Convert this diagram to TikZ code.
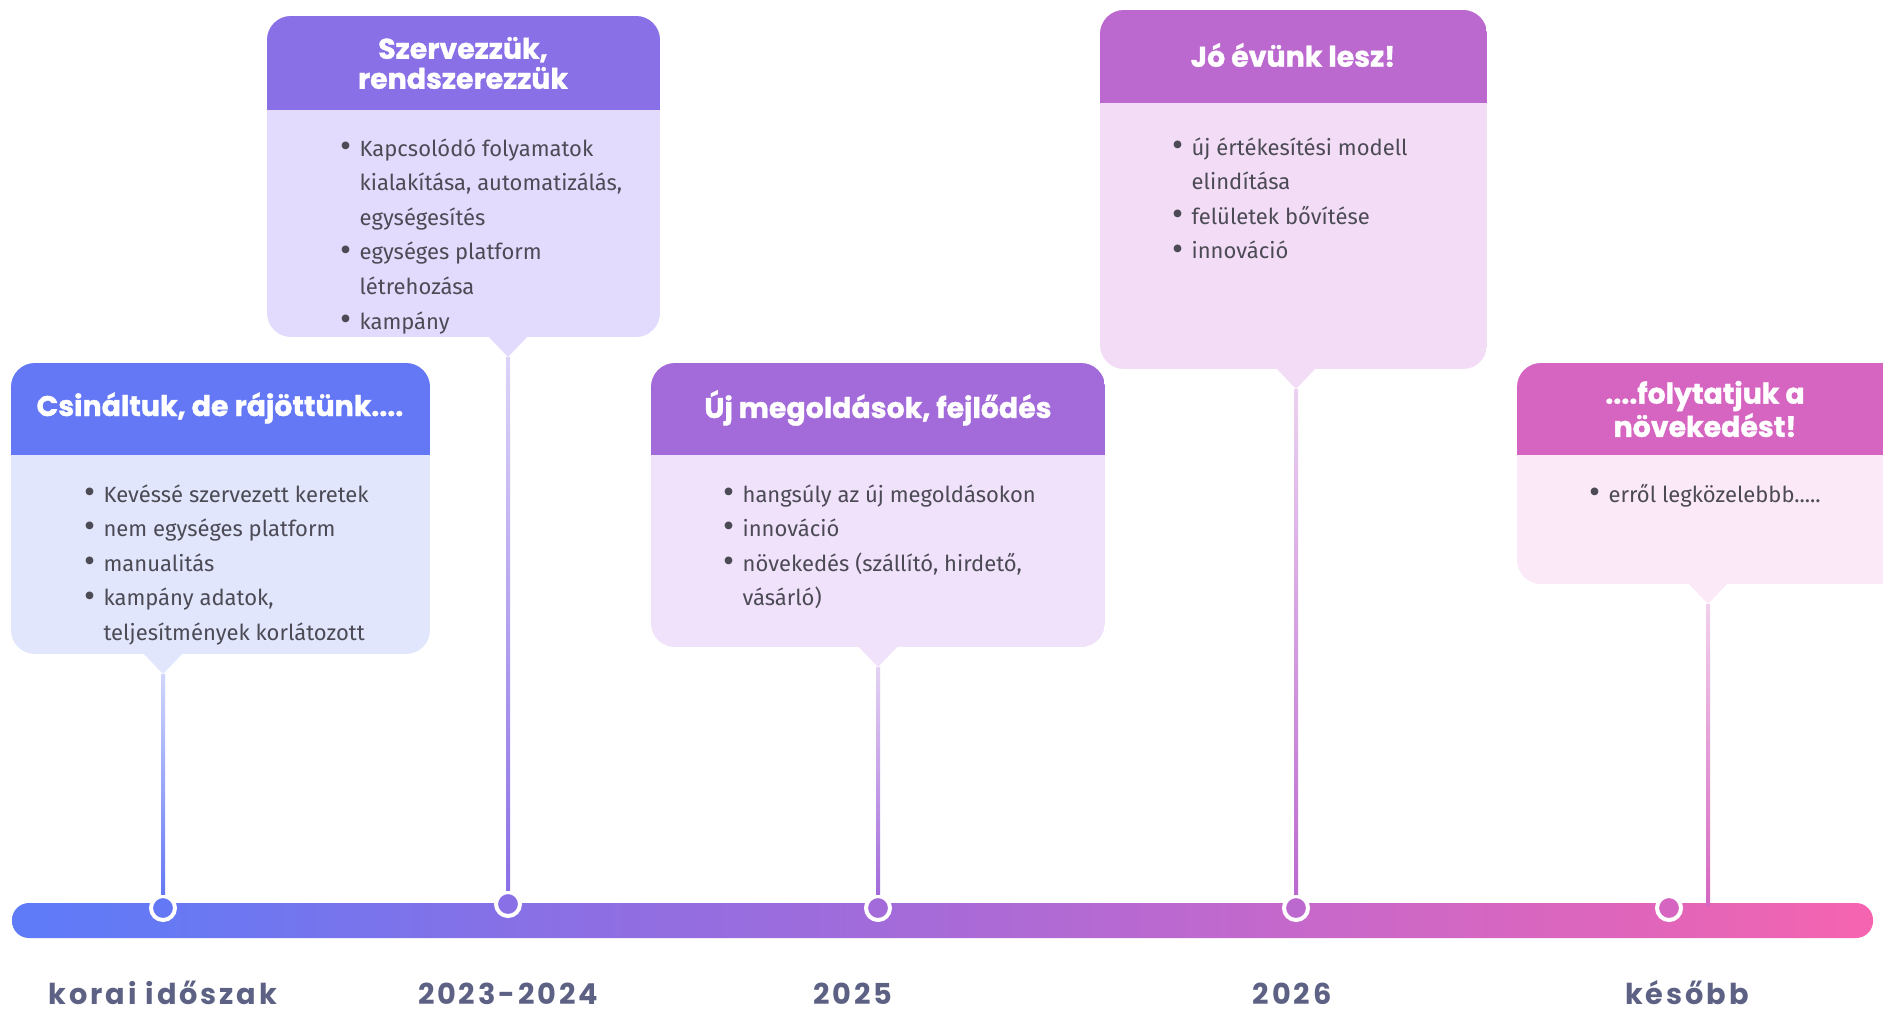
\documentclass[tikz,border=0pt]{standalone}
\usepackage{fontspec}
\setmainfont{Fira Sans}
\newfontfamily\headfont{Poppins}[BoldFeatures={FakeBold=1.2}]
\newfontfamily\yearfont{Poppins}[LetterSpace=10]
\usetikzlibrary{positioning, calc}
\definecolor{headblue}{HTML}{6478F5}
\definecolor{bodyblue}{HTML}{E2E6FC}
\definecolor{headviolet}{HTML}{8A70E6}
\definecolor{bodyviolet}{HTML}{E3DBFD}
\definecolor{headpurple}{HTML}{A36BDA}
\definecolor{bodypurple}{HTML}{F0E2FA}
\definecolor{headorchid}{HTML}{BC69CF}
\definecolor{bodyorchid}{HTML}{F3DDF6}
\definecolor{headpink}{HTML}{D565C0}
\definecolor{bodypink}{HTML}{FCE9F8}
\definecolor{textgray}{HTML}{4B4A55}
\definecolor{yeargray}{HTML}{5D6184}
\definecolor{barA}{HTML}{5F7BF8}
\definecolor{barB}{HTML}{6679F4}
\definecolor{barC}{HTML}{8770E6}
\definecolor{barD}{HTML}{A26BDA}
\definecolor{barE}{HTML}{C668CB}
\definecolor{barF}{HTML}{E265B9}
\definecolor{barG}{HTML}{F664B0}
\pgfdeclarehorizontalshading{timebar}{100bp}{color(0bp)=(barA); color(25bp)=(barA);
  color(29bp)=(barB); color(38.4bp)=(barC); color(48.3bp)=(barD);
  color(59.5bp)=(barE); color(69.5bp)=(barF); color(75bp)=(barG); color(100bp)=(barG)}
\newcommand{\bitem}{\makebox[9.6pt][l]{\raisebox{-0.6pt}{\fontsize{17}{17}\selectfont\textbullet}}}
\newcommand{\bcont}{\hspace*{9.6pt}}

\begin{document}
\begin{tikzpicture}[x=0.5pt, y=-0.5pt]
  \tikzset{
    head_text/.style={font=\headfont\bfseries\fontsize{14.2}{15}\selectfont, text=white, align=center, inner sep=0pt},
    body_text/.style={font=\fontsize{11}{17.3}\selectfont, text=textgray, align=left, anchor=north west, inner sep=0pt},
    year_label/.style={font=\yearfont\bfseries\fontsize{14.4}{15}\selectfont, text=yeargray, inner sep=0pt,
      anchor=base, text height=10pt, text depth=0pt},
    time_dot/.style args={#1}{circle, fill=#1, draw=white, line width=2pt, minimum size=12pt, inner sep=0pt}
  }
  \fill[white] (0,0) rectangle (1883,1011);
  \useasboundingbox (0,0) rectangle (1883,1011);

  % speech bubbles: body, header and pointer
  \foreach \xa/\xb/\yt/\yh/\yb/\px/\col [count=\i] in {
      11/430/363/455/654/163/blue,
      267/660/16/110/337/508/violet,
      651/1105/363/455/647/878/purple,
      1100/1487/10/103/369/1296/orchid,
      1517/1910/363/455/584/1708/pink} {
    \begin{scope}
      \clip[rounded corners=12pt] (\xa,\yt) rectangle (\xb,\yb);
      \fill[body\col] (\xa,\yt) rectangle (\xb,\yb);
      \fill[head\col] (\xa,\yt) rectangle (\xb,\yh);
    \end{scope}
    \fill[body\col] (\px-20,\yb-1) -- (\px,\yb+20) -- (\px+20,\yb-1) -- cycle;
    \coordinate (p\i) at (\px,\yb+20);
  }

  \node[head_text] (h1) at (220,408) {Csináltuk, de rájöttünk....};
  \node[head_text] (h2) at (463,63) {Szervezzük,\\rendszerezzük};
  \node[head_text] (h3) at (878,408) {Új megoldások, fejlődés};
  \node[head_text] (h4) at (1293,55) {Jó évünk lesz!};
  \node[head_text] (h5) at (1705,409) {....folytatjuk a\\növekedést!};

  \node[body_text] (t1) at (84,484) {\bitem Kevéssé szervezett keretek\\
    \bitem nem egységes platform\\ \bitem manualitás\\
    \bitem kampány adatok,\\ \bcont teljesítmények korlátozott};
  \node[body_text] (t2) at (340,138) {\bitem Kapcsolódó folyamatok\\
    \bcont kialakítása, automatizálás,\\ \bcont egységesítés\\
    \bitem egységes platform\\ \bcont létrehozása\\ \bitem kampány};
  \node[body_text] (t3) at (723,484) {\bitem hangsúly az új megoldásokon\\
    \bitem innováció\\ \bitem növekedés (szállító, hirdető,\\ \bcont vásárló)};
  \node[body_text] (t4) at (1172,137) {\bitem új értékesítési modell\\
    \bcont elindítása\\ \bitem felületek bővítése\\ \bitem innováció};
  \node[body_text] (t5) at (1589,484) {\bitem erről legközelebbb.....};

  % the time line
  \shade[shading=timebar, rounded corners=8.5pt] (12,903) rectangle (1873,938);
  \coordinate (s5) at (1708,905);

  \foreach \x/\y/\lx/\lab/\col [count=\i] in {
      163/908/163/korai időszak/blue,
      508/904/508/2023-2024/violet,
      878/908/853/2025/purple,
      1296/908/1292/2026/orchid,
      1669/908/1687/később/pink} {
    \node[time_dot=head\col] (d\i) at (\x,\y) {};
    \node[year_label] (l\i) at (\lx,1004) {\lab};
  }

  % stems from bubble to dot
  \foreach \i/\tgt/\col in {1/d1.north/blue, 2/d2.north/violet, 3/d3.north/purple,
      4/d4.north/orchid, 5/s5/pink} {
    \shade[top color=head\col!30, bottom color=head\col] ($(p\i)+(-2,0)$) rectangle ($(\tgt)+(2,0)$);
  }
\end{tikzpicture}
\end{document}
